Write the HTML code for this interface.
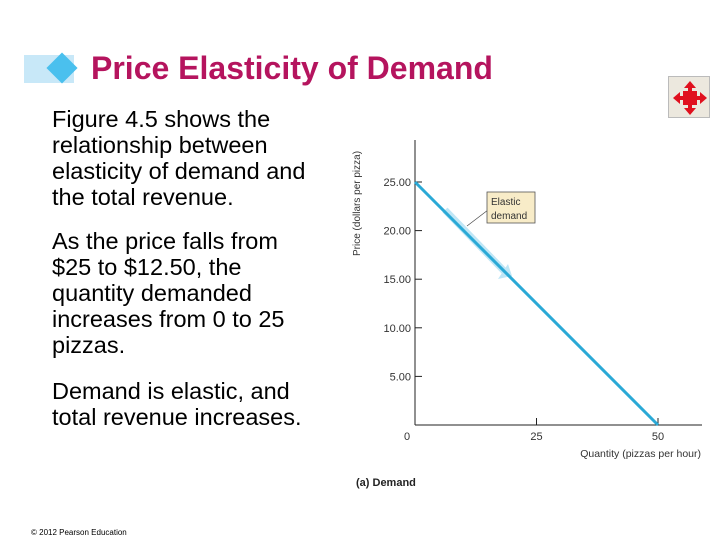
<!DOCTYPE html>
<html><head><meta charset="utf-8"><style>
body{margin:0;width:720px;height:540px;background:#fff;position:relative;overflow:hidden;font-family:"Liberation Sans",sans-serif}
.t{position:absolute;left:52px;font-size:23.5px;line-height:26px;color:#000}
</style></head><body>
<div style="position:absolute;left:24px;top:55px;width:50px;height:28px;background:#c8e8f8"></div>
<div style="position:absolute;left:51px;top:57px;width:22px;height:22px;background:#4ac0ee;transform:rotate(45deg)"></div>
<div style="position:absolute;left:91px;top:50px;font-size:32px;font-weight:bold;color:#b5145e">Price Elasticity of Demand</div>
<div style="position:absolute;left:668px;top:76px;width:42px;height:42px;background:#ece8de;border:1px solid #bbb;box-sizing:border-box">
<svg width="42" height="42"><g fill="#e0101e"><rect x="14" y="14" width="14" height="14"/><polygon points="21,4 15,11 27,11"/><polygon points="21,38 15,31 27,31"/><polygon points="4,21 11,15 11,27"/><polygon points="38,21 31,15 31,27"/><rect x="19" y="9" width="4" height="24"/><rect x="9" y="19" width="24" height="4"/></g></svg></div>
<div class="t" style="top:106px">Figure 4.5 shows the<br>relationship between<br>elasticity of demand and<br>the total revenue.</div>
<div class="t" style="top:228px">As the price falls from<br>$25 to $12.50, the<br>quantity demanded<br>increases from 0 to 25<br>pizzas.</div>
<div class="t" style="top:378px">Demand is elastic, and<br>total revenue increases.</div>
<div style="position:absolute;left:31px;top:528px;font-size:8px">© 2012 Pearson Education</div>
<svg id="chart" width="720" height="540" style="position:absolute;left:0;top:0" font-family="Liberation Sans, sans-serif"></svg>
<script>
const xTicks=[0,25,50];
const yTicks=[5,10,15,20,25];
const yLabels=["5.00","10.00","15.00","20.00","25.00"];
const demandQ=[0,50];
const demandP=[25,0];
const NS="http://www.w3.org/2000/svg";
const svg=document.getElementById('chart');
const X=q=>415+q*4.86, Y=p=>425-p*9.72;
function el(t,a,txt){const e=document.createElementNS(NS,t);for(const k in a)e.setAttribute(k,a[k]);if(txt!==undefined)e.textContent=txt;svg.appendChild(e);return e;}
let e;
e=el('line',{x1:415,y1:140,x2:415,y2:425,stroke:'#222','stroke-width':1});


e=el('line',{x1:415,y1:425,x2:702,y2:425,stroke:'#222','stroke-width':1});


yTicks.forEach((v,i)=>{
 e=el('line',{x1:415,y1:Y(v),x2:422,y2:Y(v),stroke:'#222'});
 
 
 e=el('text',{x:411,y:Y(v)+4,'text-anchor':'end','font-size':11,fill:'#333'},yLabels[i]);
 
 
});
xTicks.forEach(v=>{
 if(v>0){e=el('line',{x1:X(v),y1:418,x2:X(v),y2:425,stroke:'#222'});
 
 }
 e=el('text',{x:X(v)-(v==0?8:0),y:440,'text-anchor':'middle','font-size':11,fill:'#333'},String(v));
 
 
});
e=el('text',{x:701,y:457,'text-anchor':'end','font-size':10.5,fill:'#333'},'Quantity (pizzas per hour)');


e=el('text',{x:360,y:256,'font-size':10,fill:'#333',transform:'rotate(-90 360 256)'},'Price (dollars per pizza)');


e=el('line',{x1:445,y1:210,x2:505,y2:272,stroke:'#bfe6f6','stroke-width':7});


e=el('polygon',{points:'498,279 512,276 508,264',fill:'#bfe6f6'});


e=el('line',{x1:X(demandQ[0]),y1:Y(demandP[0]),x2:X(demandQ[1]),y2:Y(demandP[1]),stroke:'#2aa9d6','stroke-width':3});


e=el('line',{x1:467,y1:226,x2:488,y2:210,stroke:'#444','stroke-width':0.7});


e=el('rect',{x:487,y:192,width:48,height:31,fill:'#f8ecc8',stroke:'#555','stroke-width':0.8});


e=el('text',{x:491,y:205,'font-size':10,fill:'#333'},'Elastic');


e=el('text',{x:491,y:219,'font-size':10,fill:'#333'},'demand');


e=el('text',{x:356,y:486,'font-size':11,'font-weight':'bold',fill:'#222'},'(a) Demand');


</script>
</body></html>
